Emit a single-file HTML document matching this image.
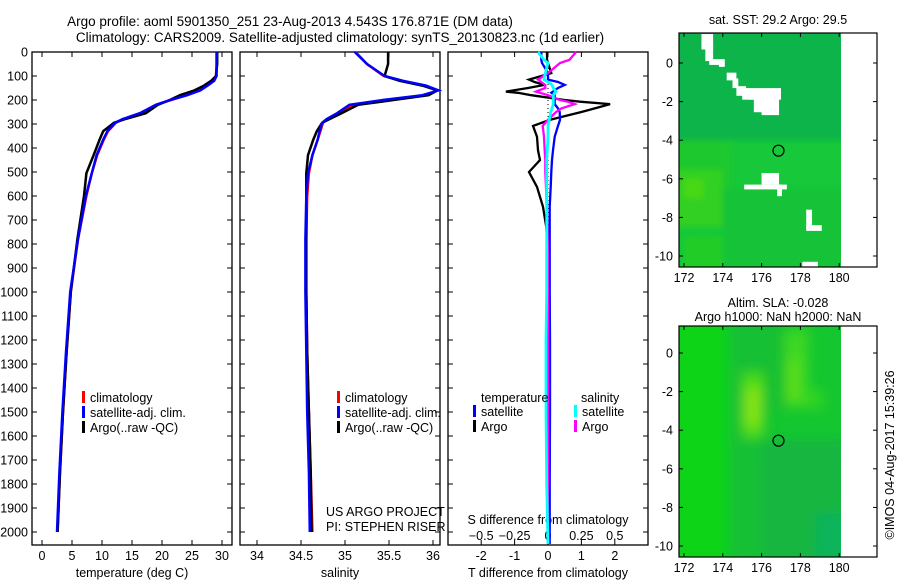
<!DOCTYPE html>
<html><head><meta charset="utf-8"><style>
body{margin:0;background:#fff;}
svg{display:block;font-family:"Liberation Sans",sans-serif;}
text{font-size:12.5px;fill:#000;}
</style></head><body>
<svg id="c" width="900" height="580" viewBox="0 0 900 580" xmlns="http://www.w3.org/2000/svg">
<defs>
<filter id="blur6" x="-20%" y="-20%" width="140%" height="140%"><feGaussianBlur stdDeviation="6"/></filter>
<filter id="blur3" x="-20%" y="-20%" width="140%" height="140%"><feGaussianBlur stdDeviation="3"/></filter>
<clipPath id="clip1"><rect x="679" y="33" width="162" height="234"/></clipPath>
<clipPath id="clip2"><rect x="679" y="326" width="162" height="231"/></clipPath>
</defs>
<text x="290" y="26" text-anchor="middle" style="font-size:13.5px">Argo profile: aoml 5901350_251 23-Aug-2013 4.543S 176.871E (DM data)</text>
<text x="340" y="42" text-anchor="middle" style="font-size:13.5px">Climatology: CARS2009. Satellite-adjusted climatology: synTS_20130823.nc (1d earlier)</text>
<g id="g"></g>
</svg>
<script>
// ---- data ----
const depthTicks=[0,100,200,300,400,500,600,700,800,900,1000,1100,1200,1300,1400,1500,1600,1700,1800,1900,2000];
const tTicks=[0,5,10,15,20,25,30];
const sTicks=[34,34.5,35,35.5,36];
const tdTicks=[-2,-1,0,1,2];
const sdTicks=[-0.5,-0.25,0,0.25,0.5];
const lonTicks=[172,174,176,178,180];
const latTicks=[0,-2,-4,-6,-8,-10];
const profDepth=[0,50,100,120,140,160,180,200,220,255,280,295,330,365,430,505,600,780,1000,1250,1500,1750,2000];
const tempClim=[29.1,29.1,29.0,28.6,27.5,26.3,24.0,21.5,19.0,16.4,13.5,12.3,11.0,10.3,9.2,8.3,7.4,6.0,4.8,4.1,3.5,3.0,2.6];
const tempSat=[29.1,29.1,29.1,28.7,27.6,26.4,24.2,21.4,19.0,16.3,13.4,12.2,10.9,10.2,9.1,8.3,7.3,6.0,4.7,4.0,3.4,2.9,2.5];
const tempArgo=[29.2,29.2,29.0,28.2,27.0,25.4,23.0,21.3,19.3,17.3,13.8,12.0,10.2,9.6,8.6,7.4,7.0,5.9,4.8,4.1,3.5,3.0,2.6];
const salClim=[35.12,35.25,35.44,35.65,35.90,36.06,35.90,35.48,35.10,34.92,34.80,34.75,34.72,34.69,34.63,34.59,34.57,34.56,34.56,34.57,34.59,34.61,34.63];
const salSat=[35.11,35.25,35.45,35.66,35.92,36.06,35.88,35.43,35.05,34.91,34.79,34.74,34.71,34.69,34.63,34.58,34.56,34.55,34.55,34.56,34.57,34.59,34.60];
const salArgo=[35.49,35.49,35.45,35.62,35.88,36.05,35.95,35.55,35.15,34.96,34.82,34.74,34.68,34.64,34.58,34.56,34.56,34.56,34.56,34.57,34.59,34.61,34.62];
const diffDepth=[0,33,46,88,115,125,137,150,165,170,180,200,207,217,235,250,283,308,353,410,450,500,562,645,730,850,1000,1200,1500,1800,2050];
const tdArgo=[-0.03,-0.03,0.0,0.1,-0.57,-0.4,-0.1,-0.6,-1.26,-0.9,-0.5,0.5,0.96,1.86,1.4,1.0,0.05,-0.45,-0.33,-0.3,-0.24,-0.57,-0.33,-0.15,-0.05,0.0,0.02,0.03,0.03,0.02,0.02];
const tdSat=[-0.2,-0.2,-0.18,0.0,0.0,0.3,0.5,0.3,0.15,0.1,0.2,0.2,0.2,0.2,0.3,0.35,0.36,0.3,0.2,0.15,0.12,0.1,0.08,0.05,0.05,0.05,0.05,0.06,0.06,0.05,0.05];
const sdArgo=[0.21,0.16,0.09,0.0,-0.075,-0.05,-0.02,-0.02,-0.09,-0.06,0.0,0.09,0.15,0.2,0.1,0.06,0.0,-0.04,-0.03,-0.025,-0.02,-0.02,-0.015,-0.01,-0.005,0.0,0.0,0.0,0.0,0.0,0.0];
const sdSat=[-0.075,-0.03,0.0,-0.02,-0.03,0.0,0.03,0.04,0.06,0.05,0.04,0.04,0.04,0.04,0.03,0.02,0.01,0.0,0.0,-0.005,-0.01,-0.01,-0.01,-0.01,-0.01,-0.01,-0.01,-0.015,-0.015,-0.01,0.0];
const argoLon=[176.871], argoLat=[-4.543];
// ---- helpers ----
const NS="http://www.w3.org/2000/svg",G=document.getElementById('g');
function el(t,a,p){const e=document.createElementNS(NS,t);for(const k in a)e.setAttribute(k,a[k]);(p||G).appendChild(e);return e;}
function txt(x,y,s,anchor,p){const e=el('text',{x:x,y:y,'text-anchor':anchor||'middle'},p);e.textContent=s;return e;}
const Y0=52,PY=0.24; const yD=d=>Y0+d*PY; const BOT=545;
function box(x0,x1,y0,y1,name){const r=el('rect',{x:x0,y:y0,width:x1-x0,height:y1-y0,fill:'none',stroke:'#000','stroke-width':1.3});

}
function line(xs,ds,fx,color,name,w){const pts=xs.map((v,i)=>fx(v).toFixed(1)+','+yD(ds[i]).toFixed(1)).join(' ');
const p=el('polyline',{points:pts,fill:'none',stroke:color,'stroke-width':w||2.5,'stroke-linejoin':'miter'});

}
function xtick(x,top,bottom){el('line',{x1:x,y1:bottom,x2:x,y2:bottom-5,stroke:'#000'});el('line',{x1:x,y1:top,x2:x,y2:top+5,stroke:'#000'});}
function legend(x,y,entries,pname){entries.forEach((e,i)=>{const yy=y+i*15;
const m=el('rect',{x:x,y:yy-11,width:3,height:12,fill:e[0]});


const t=txt(x+8,yy,e[1],'start');

});}
// ---- panel 1 temperature ----
const fT=v=>42+v*6;
box(32,232,Y0,BOT,'temperature-panel-frame');
depthTicks.forEach(d=>{el('line',{x1:32,y1:yD(d),x2:37,y2:yD(d),stroke:'#000'});el('line',{x1:232,y1:yD(d),x2:227,y2:yD(d),stroke:'#000'});
const t=txt(28,yD(d)+4.5,String(d),'end');});
tTicks.forEach(v=>{xtick(fT(v),Y0,BOT);txt(fT(v),560,String(v));});
txt(132,577,'temperature (deg C)');
line(tempClim,profDepth,fT,'#f00','temperature-climatology-line');
line(tempArgo,profDepth,fT,'#000','temperature-argo-line');
line(tempSat,profDepth,fT,'#00f','temperature-satellite-line');
legend(82,402,[['#f00','climatology'],['#00f','satellite-adj. clim.'],['#000','Argo(..raw -QC)']],'temperature');
// ---- panel 2 salinity ----
const fS=v=>257+(v-34)*88;
box(240,440,Y0,BOT,'salinity-panel-frame');
depthTicks.forEach(d=>{el('line',{x1:240,y1:yD(d),x2:245,y2:yD(d),stroke:'#000'});el('line',{x1:440,y1:yD(d),x2:435,y2:yD(d),stroke:'#000'});});
sTicks.forEach(v=>{xtick(fS(v),Y0,BOT);txt(fS(v),560,String(v));});
txt(340,577,'salinity');
line(salClim,profDepth,fS,'#f00','salinity-climatology-line');
line(salArgo,profDepth,fS,'#000','salinity-argo-line');
line(salSat,profDepth,fS,'#00f','salinity-satellite-line');
legend(337,402,[['#f00','climatology'],['#00f','satellite-adj. clim.'],['#000','Argo(..raw -QC)']],'salinity');
txt(326,516,'US ARGO PROJECT','start');
txt(326,531,'PI: STEPHEN RISER','start');
// ---- panel 3 differences ----
const fTd=v=>548+v*33.4, fSd=v=>548+v*133.6;
box(448,648,Y0,BOT,'difference-panel-frame');
depthTicks.forEach(d=>{el('line',{x1:448,y1:yD(d),x2:453,y2:yD(d),stroke:'#000'});el('line',{x1:648,y1:yD(d),x2:643,y2:yD(d),stroke:'#000'});});
tdTicks.forEach(v=>{xtick(fTd(v),Y0,BOT);txt(fTd(v),560,String(v));});
sdTicks.forEach(v=>{txt(fSd(v),540,v<0?'\u2212'+String(-v):String(v));});
txt(548,524,'S difference from climatology');
txt(548,577,'T difference from climatology');
el('line',{x1:548,y1:Y0,x2:548,y2:BOT,stroke:'#000','stroke-dasharray':'1,3'});
line(tdArgo,diffDepth,fTd,'#000','t-diff-argo-line',2.3);
line(tdSat,diffDepth,fTd,'#00f','t-diff-satellite-line',2.3);
line(sdArgo,diffDepth,fSd,'#f0f','s-diff-argo-line',2.3);
line(sdSat,diffDepth,fSd,'#0ff','s-diff-satellite-line',2.8);
txt(481,402,'temperature','start');txt(581,402,'salinity','start');
legend(473,416,[['#00f','satellite'],['#000','Argo']],'t-diff');
legend(574,416,[['#0ff','satellite'],['#f0f','Argo']],'s-diff');
// ---- maps ----
function map(top,bottom,lat0y,title1,title2,name,base,patches,islands,clip,blur){
 const fx=l=>684+(l-172)*19.4, fy=l=>lat0y-l*19.3;
 const g=el('g',{});
 const cg=el('g',{'clip-path':'url(#'+clip+')'},g);
 el('rect',{x:679,y:top,width:162,height:bottom-top,fill:base},cg);
 const pg=el('g',{filter:'url(#'+blur+')'},cg);
 patches.forEach(p=>el('rect',{x:fx(p[0]),y:fy(p[1]),width:p[2]*19.4,height:p[3]*19.3,fill:p[4]},pg));
 islands.forEach(p=>el('rect',{x:fx(p[0]),y:fy(p[1]),width:p[2]*19.4,height:p[3]*19.3,fill:'#fff'},cg));
 el('rect',{x:679,y:top,width:198,height:bottom-top,fill:'none',stroke:'#000','stroke-width':1.2},g);
 lonTicks.forEach(l=>{el('line',{x1:fx(l),y1:bottom,x2:fx(l),y2:bottom-4,stroke:'#000'},g);el('line',{x1:fx(l),y1:top,x2:fx(l),y2:top+4,stroke:'#000'},g);txt(fx(l),bottom+15,String(l),'middle',g);});
 latTicks.forEach(l=>{el('line',{x1:679,y1:fy(l),x2:683,y2:fy(l),stroke:'#000'},g);el('line',{x1:877,y1:fy(l),x2:873,y2:fy(l),stroke:'#000'},g);txt(673,fy(l)+4.5,l<0?'-'+(-l):String(l),'end',g);});
 const c=el('circle',{cx:fx(argoLon[0]),cy:fy(argoLat[0]),r:5.5,fill:'none',stroke:'#000','stroke-width':1.2},g);
 
 
 if(title2){txt(778,top-19,title1,'middle',g);txt(778,top-5,title2,'middle',g);}else txt(778,top-9,title1,'middle',g);
}
map(33,267,63,'sat. SST: 29.2  Argo: 29.5',null,'sst-map','#16c83a',[
 [171.5,2,9,6,'#10b44a'],[171.5,-4,3,3,'#1ec82e'],[171.5,-5.5,2.5,3,'#30d020'],[172,-6,1,1,'#48d818'],[174,-6.5,6.5,4.5,'#12c238'],[172,-9,2,2,'#22cc28']],
 [[172.9,1.5,0.6,0.8],[173.1,1.0,0.4,0.9],[173.3,0.2,0.8,0.3],[173.8,0.1,0.3,0.3],[174.2,-0.5,0.5,0.4],[174.5,-0.8,0.3,0.5],[174.7,-1.2,0.5,0.5],[175.0,-1.3,2.0,0.6],[175.3,-1.6,0.4,0.3],[175.6,-1.7,1.3,0.85],[176.0,-2.5,0.9,0.2],
  [176.0,-5.7,0.9,0.6],[175.1,-6.3,2.2,0.25],[176.8,-6.3,0.25,0.6],[178.3,-7.6,0.3,1.0],[178.3,-8.4,0.8,0.3],[178.1,-10.3,0.8,0.3]],'clip1','blur3');
map(326,557,353,'Altim. SLA: -0.028','Argo h1000: NaN h2000: NaN','sla-map','#14c630',[
 [171.5,2,3,13,'#08d414'],[174.3,2,2,13,'#12c034'],[176,2,1.4,5,'#18c030'],[175.0,-1.0,1.1,3.4,'#48dc18'],[175.2,-1.8,0.7,2.0,'#8ae418'],[177.2,1.2,1.2,4.0,'#3cd820'],[177.4,-0.3,0.5,2.2,'#62de18'],[178.3,-1.9,0.9,1.0,'#30d420'],
 [176,-4.5,4.5,7,'#12b640'],[178.8,-8.3,1.6,2.5,'#0cb45c']],[],'clip2','blur6');
const r=txt(0,0,'\u00a9IMOS 04-Aug-2017 15:39:26','middle');
r.setAttribute('transform','translate(894,455) rotate(-90)');


</script>
</body></html>
